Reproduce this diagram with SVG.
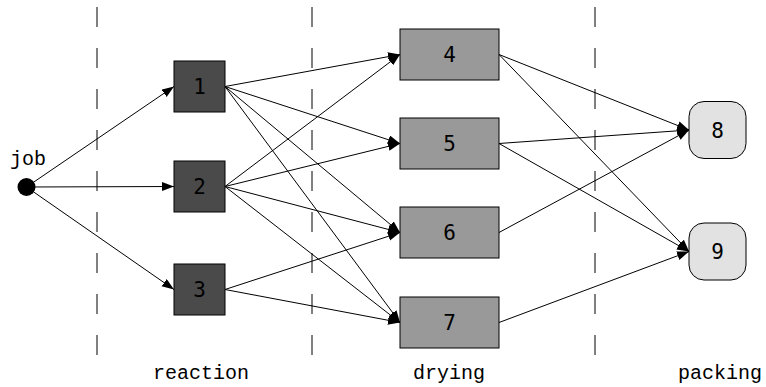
<svg xmlns="http://www.w3.org/2000/svg" width="766" height="387" viewBox="0 0 766 387">
  <style>
    .stage { stroke: #000; stroke-width: 1; stroke-dasharray: 20 21; fill: none; }
    .edge { stroke: #000; stroke-width: 1; fill: none; marker-end: url(#arrow); }
    .box { stroke: #000; stroke-width: 1; }
    .dark { fill: #4a4a4a; }
    .mid { fill: #999999; }
    .light { fill: #e2e2e2; }
    .num { font-family: "DejaVu Sans Mono", "Liberation Mono", monospace; font-size: 21px; fill: #000; text-anchor: middle; }
    .lbl { font-family: "Liberation Mono", "Courier New", monospace; font-size: 20px; fill: #000; text-anchor: middle; }
  </style>
  <defs>
    <marker id="arrow" markerUnits="userSpaceOnUse" markerWidth="12" markerHeight="10" refX="12" refY="4.5" orient="auto">
      <path d="M0,0 L12,4.5 L0,9 Z" fill="#000"/>
    </marker>
  </defs>

  <rect width="766" height="387" fill="#fff"/>

  <!-- stage separators -->
  <g id="separators">
    <line class="stage" x1="97" y1="7" x2="97" y2="356"/>
    <line class="stage" x1="312" y1="7" x2="312" y2="356"/>
    <line class="stage" x1="595" y1="7" x2="595" y2="356"/>
  </g>

  <!-- connectors -->
  <g id="connectors">
    <line class="edge" x1="26.5" y1="187" x2="174" y2="86.5"/>
    <line class="edge" x1="26.5" y1="187" x2="174" y2="186.5"/>
    <line class="edge" x1="26.5" y1="187" x2="174" y2="289.5"/>

    <line class="edge" x1="225" y1="86.5" x2="400" y2="54.5"/>
    <line class="edge" x1="225" y1="86.5" x2="400" y2="143.5"/>
    <line class="edge" x1="225" y1="86.5" x2="400" y2="232.5"/>
    <line class="edge" x1="225" y1="86.5" x2="400" y2="322.5"/>

    <line class="edge" x1="225" y1="186.5" x2="400" y2="54.5"/>
    <line class="edge" x1="225" y1="186.5" x2="400" y2="143.5"/>
    <line class="edge" x1="225" y1="186.5" x2="400" y2="232.5"/>
    <line class="edge" x1="225" y1="186.5" x2="400" y2="322.5"/>

    <line class="edge" x1="225" y1="289.5" x2="400" y2="232.5"/>
    <line class="edge" x1="225" y1="289.5" x2="400" y2="322.5"/>

    <line class="edge" x1="499" y1="54.5" x2="689" y2="130"/>
    <line class="edge" x1="499" y1="54.5" x2="689" y2="251.5"/>
    <line class="edge" x1="499" y1="143.5" x2="689" y2="130"/>
    <line class="edge" x1="499" y1="143.5" x2="689" y2="251.5"/>
    <line class="edge" x1="499" y1="232.5" x2="689" y2="130"/>
    <line class="edge" x1="499" y1="322.5" x2="689" y2="251.5"/>
  </g>

  <!-- source -->
  <g id="job">
    <circle cx="26.5" cy="187" r="9" fill="#000"/>
    <text class="lbl" x="28" y="165">job</text>
  </g>

  <!-- reaction units -->
  <g id="n1">
    <rect class="box dark" x="174" y="61" width="51" height="51"/>
    <text class="num" x="199.5" y="94">1</text>
  </g>
  <g id="n2">
    <rect class="box dark" x="174" y="161" width="51" height="51"/>
    <text class="num" x="199.5" y="194">2</text>
  </g>
  <g id="n3">
    <rect class="box dark" x="174" y="264" width="51" height="51"/>
    <text class="num" x="199.5" y="297">3</text>
  </g>

  <!-- drying units -->
  <g id="n4">
    <rect class="box mid" x="400" y="29" width="99" height="51"/>
    <text class="num" x="449.5" y="62">4</text>
  </g>
  <g id="n5">
    <rect class="box mid" x="400" y="118" width="99" height="51"/>
    <text class="num" x="449.5" y="151">5</text>
  </g>
  <g id="n6">
    <rect class="box mid" x="400" y="207" width="99" height="51"/>
    <text class="num" x="449.5" y="240">6</text>
  </g>
  <g id="n7">
    <rect class="box mid" x="400" y="297" width="99" height="51"/>
    <text class="num" x="449.5" y="330">7</text>
  </g>

  <!-- packing units -->
  <g id="n8">
    <rect class="box light" x="689" y="101.5" width="57" height="57" rx="15" ry="15"/>
    <text class="num" x="717.5" y="137.5">8</text>
  </g>
  <g id="n9">
    <rect class="box light" x="689" y="223" width="57" height="57" rx="15" ry="15"/>
    <text class="num" x="717.5" y="259">9</text>
  </g>

  <!-- stage names -->
  <g id="stage-labels">
    <text class="lbl" x="201" y="379">reaction</text>
    <text class="lbl" x="449" y="379">drying</text>
    <text class="lbl" x="720" y="379">packing</text>
  </g>
</svg>
